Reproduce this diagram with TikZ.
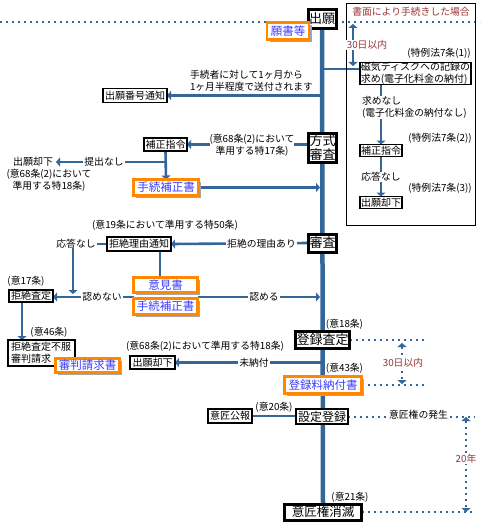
\documentclass[tikz,border=0pt]{standalone}
\usepackage{fontspec}
\setmainfont{Noto Sans CJK JP}
\usetikzlibrary{arrows.meta,shadows}
\definecolor{lb}{RGB}{51,102,153}
\definecolor{dred}{RGB}{153,51,51}
\definecolor{orng}{RGB}{255,136,0}
\definecolor{vblue}{RGB}{60,60,255}
\pgfdeclarelayer{bg}
\pgfsetlayers{bg,main}
\begin{document}
\begin{tikzpicture}[x=1pt,y=-1pt,
  every node/.style={inner sep=0pt, outer sep=0pt},
  sm/.style={font=\fontsize{9.8}{12}\selectfont},
  bx/.style={draw=black, line width=1.3pt, fill=white, font=\fontsize{10}{12}\selectfont},
  tbx/.style={draw=black, line width=3pt, fill=white, font=\fontsize{13}{14}\selectfont},
  obx/.style={draw=orng, line width=2.5pt, fill=white, text=vblue, font=\fontsize{11.5}{13}\selectfont,
     drop shadow={shadow xshift=2.5pt, shadow yshift=-2.5pt, fill=black!35, opacity=1}},
  lab/.style={sm, fill=white, inner xsep=1pt},
  conn/.style={draw=lb, line width=2.6pt},
  arr/.style={conn, -{Triangle[width=9pt,length=4pt]}},
  dots/.style={draw=lb, line width=2pt, dash pattern=on 2pt off 4pt},
  dimarr/.style={draw=lb, line width=2pt, {Triangle[width=9pt,length=4pt]}-{Triangle[width=9pt,length=4pt]}},
]
\useasboundingbox (0,0) rectangle (480,524);

% ---- nodes: top
\node[tbx, minimum width=28pt, minimum height=19pt] (chugan) at (322,19) {出願};
\node[obx, minimum width=42pt, minimum height=17pt] (gansho) at (288,31) {願書等};
\node[bx, minimum width=64pt, minimum height=14pt] (bango) at (135,95.5) {出願番号通知};
\node[sm, anchor=west, align=left] (sofu) at (190,81) {手続者に対して1ヶ月から\\1ヶ月半程度で送付されます};

% ---- right panel
\draw[black, line width=0.8pt] (346,3) rectangle (475,225);
\node[sm, text=dred] (ptitle) at (411,12) {書面により手続きした場合};
\node[bx, minimum width=111pt, minimum height=21pt, align=left] (jiki) at (415.5,73.5) {磁気ディスクへの記録の\\求め(電子化料金の納付)};
\node[sm] (t1) at (439,53) {(特例法7条(1))};
\node[sm, align=left, fill=white, anchor=west] (motome) at (362,107.5) {求めなし\\(電子化料金の納付なし)};
\node[bx, minimum width=42pt, minimum height=12pt] (hosei2) at (381,150.5) {補正指令};
\node[sm] (t2) at (440,138) {(特例法7条(2))};
\node[lab] (outo2) at (381,177) {応答なし};
\node[bx, minimum width=42pt, minimum height=12pt] (kyakka2) at (381,202.5) {出願却下};
\node[sm] (t3) at (440,188) {(特例法7条(3))};
\node[lab, text=dred] (d30a) at (367,45) {30日以内};

% ---- middle
\node[tbx, minimum width=28pt, minimum height=29pt, align=center] (hoshiki) at (322.5,148) {方式\\審査};
\node[bx, minimum width=43pt, minimum height=13pt] (hosei1) at (165.5,144.5) {補正指令};
\node[sm, fill=white, align=center] (j17) at (252,145) {(意68条(2)において\\準用する特17条)};
\node[obx, minimum width=65pt, minimum height=16pt] (tetsu1) at (166,187.5) {手続補正書};
\node[font=\fontsize{10}{12}\selectfont, inner xsep=3pt] (kyakka1) at (33,162) {出願却下};
\node[lab] (teishutsu) at (104,162) {提出なし};
\node[sm, align=center] (j18a) at (49,180) {(意68条(2)において\\準用する特18条)};

\node[tbx, minimum width=28pt, minimum height=18pt] (shinsa) at (322.5,243) {審査};
\node[sm] (j50) at (165,225) {(意19条において準用する特50条)};
\node[bx, minimum width=64pt, minimum height=14pt] (kyozetsu) at (139,244) {拒絶理由通知};
\node[lab] (riyu) at (261.5,243.5) {拒絶の理由あり};
\node[lab] (outo1) at (76,243.5) {応答なし};
\node[obx, minimum width=64pt, minimum height=15pt] (iken) at (165.5,285) {意見書};
\node[obx, minimum width=64pt, minimum height=16pt] (tetsu2) at (165.5,306.5) {手続補正書};
\node[lab] (mitomenai) at (102,297) {認めない};
\node[lab] (mitomeru) at (264,297) {認める};
\node[bx, minimum width=44pt, minimum height=12pt] (satei) at (31,296) {拒絶査定};
\node[sm] (j17b) at (26,281) {(意17条)};
\node[sm] (j46) at (49,332) {(意46条)};
\node[bx, text width=61pt, inner xsep=3pt, minimum height=26pt, align=left] (fufuku) at (41.5,353) {拒絶査定不服\\審判請求};
\node[obx, minimum width=64pt, minimum height=14pt] (shinpan) at (87.5,365.5) {審判請求書};

% ---- bottom
\node[tbx, minimum width=54pt, minimum height=17pt] (toroku) at (322.5,340) {登録査定};
\node[sm] (j18) at (344.5,324) {(意18条)};
\node[sm] (j18b) at (205,346) {(意68条(2)において準用する特18条)};
\node[bx, minimum width=45pt, minimum height=13pt] (kyakka3) at (152.5,362.5) {出願却下};
\node[lab] (minofu) at (254,363) {未納付};
\node[sm] (j43) at (344.5,368) {(意43条)};
\node[obx, minimum width=77pt, minimum height=17pt] (ryokin) at (323,385) {登録料納付書};
\node[lab, text=dred] (d30b) at (403,363) {30日以内};
\node[bx, minimum width=44pt, minimum height=14pt] (kohou) at (230,416) {意匠公報};
\node[sm] (j20) at (274,407) {(意20条)};
\node[bx, minimum width=52pt, minimum height=15pt, font=\fontsize{12}{13}\selectfont] (settei) at (322,416.5) {設定登録};
\node[lab] (hassei) at (418.5,415) {意匠権の発生};
\node[tbx, minimum width=77pt, minimum height=16pt, font=\fontsize{12.5}{13}\selectfont] (shometsu) at (323,512) {意匠権消滅};
\node[sm] (j21) at (350,497) {(意21条)};
\node[lab, text=dred] (y20) at (466,459) {20年};

% ---- helper coordinates
\coordinate (j69) at (340,69);
\coordinate (a30t) at (353,24);
\coordinate (a30b) at (353,66);
\coordinate (br1) at (166,162);
\coordinate (c73) at (73,294);
\coordinate (x160) at (160,260);
\coordinate (r297) at (200,297);
\coordinate (x22) at (22,320);
\coordinate (e341) at (427,340);
\coordinate (e385) at (427,385);
\coordinate (d30t) at (402,343);
\coordinate (d30u) at (402,384);
\coordinate (e475) at (475,400);
\coordinate (y20t) at (466,417);
\coordinate (y20b) at (466,512);
\coordinate (l0) at (0,22);
\coordinate (l1) at (480,22);

% ---- connectors
\begin{pgfonlayer}{bg}
\draw[dots] (l0) -- (l1);
\draw[conn, line width=4.5pt] (chugan.south) -- (shometsu.north);
\draw[arr] (chugan.south |- bango) -- (bango.east);
\draw[conn] (chugan.south |- j69) -- (jiki.west |- j69);
\draw[dimarr] (a30t) -- (a30b);
\draw[arr] (jiki.south -| hosei2) -- (hosei2.north);
\draw[arr] (hosei2.south) -- (kyakka2.north);
\draw[arr] (hoshiki.west |- hosei1) -- (hosei1.east);
\draw[arr] (hosei1.south) -- (tetsu1.north);
\draw[arr] (br1) -- (kyakka1.east);
\draw[arr] (tetsu1.east) -- ([xshift=-2pt]chugan.south |- tetsu1);
\draw[arr] (shinsa.west) -- (kyozetsu.east);
\draw[arr] (kyozetsu.west) -| (c73);
\draw[conn] (kyozetsu.south -| x160) -- (iken.north -| x160);
\draw[arr] (iken.west |- r297) -- (satei.east |- r297);
\draw[arr] (iken.east |- r297) -- ([xshift=-2pt]chugan.south |- r297);
\draw[arr] (satei.south -| x22) -- (fufuku.north -| x22);
\draw[dots] (toroku.east) -- (e341);
\draw[arr] (chugan.south |- kyakka3) -- (kyakka3.east);
\draw[dots] (ryokin.east) -- (e385);
\draw[dimarr, dash pattern=on 2pt off 4pt] (d30t) -- (d30u);
\draw[conn] (kohou.east) -- (kohou.east -| settei.west);
\draw[dots] (settei.east) -- (settei.east -| e475);
\draw[dots] (shometsu.east) -- (shometsu.east -| e475);
\draw[dimarr, dash pattern=on 2pt off 4pt] (y20t) -- (y20b);
\end{pgfonlayer}
\end{tikzpicture}
\end{document}
